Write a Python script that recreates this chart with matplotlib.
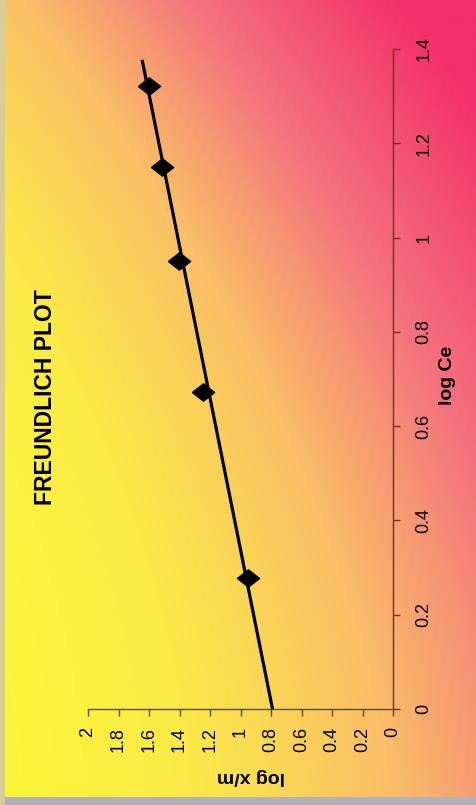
import numpy as np
import matplotlib
matplotlib.use('Agg')
import matplotlib.pyplot as plt
from matplotlib.patches import Rectangle
from matplotlib.colors import LinearSegmentedColormap

plt.rcParams['font.family'] = ['Liberation Sans', 'DejaVu Sans']

# Freundlich isotherm data (chart is printed turned on its side)
log_ce = [0.277, 0.672, 0.951, 1.149, 1.321]
log_xm = [0.954, 1.243, 1.401, 1.513, 1.599]

# straight line through the points, as drawn in the picture
fit_ce = [0.0, 1.377]
fit_xm = [0.79, 1.645]

ce_ticks = [0, 0.2, 0.4, 0.6, 0.8, 1, 1.2, 1.4]
xm_ticks = [0, 0.2, 0.4, 0.6, 0.8, 1, 1.2, 1.4, 1.6, 1.8, 2]

W, H = 476, 805
fig = plt.figure(figsize=(W / 100, H / 100), dpi=100)

# yellow -> orange -> pink background
grad = LinearSegmentedColormap.from_list('bg', [
    (0.0, '#fcf63a'), (0.2, '#fbea48'), (0.45, '#f9bd68'),
    (0.68, '#f4747e'), (1.0, '#f3306a')])
bg = fig.add_axes([0, 0, 1, 1], zorder=0)
xf = np.linspace(0, 1, 240)[None, :]
yf = np.linspace(1, 0, 400)[:, None]  # 1 at top
t = 0.55 * xf ** 1.1 + 0.42 * yf ** 2 + 0.15 * xf * yf
bg.imshow(np.clip(t, 0, 1), cmap=grad, vmin=0, vmax=1, aspect='auto',
          extent=[0, 1, 0, 1], origin='upper')
bg.set_xlim(0, 1)
bg.set_ylim(0, 1)
bg.axis('off')
bg.add_patch(Rectangle((0, 0), 1, 8 / H, color='#b4b0b8', lw=0))
bg.add_patch(Rectangle((0, 0), 5 / W, 1, color='#d8cc98', lw=0))

ax = fig.add_axes([88 / W, (H - 709) / H, (393 - 88) / W, (709 - 49) / H], zorder=2)
ax.patch.set_alpha(0)

diamond = [(-1, 0), (0, 0.78), (1, 0), (0, -0.78), (-1, 0)]
ax.plot(fit_xm, fit_ce, color='black', lw=2.3, solid_capstyle='butt', zorder=3)
ax.plot(log_xm, log_ce, linestyle='none', marker=diamond, markersize=16,
        color='black', zorder=4)

ax.set_xlim(2, 0)
ax.set_ylim(0, 1.4)

for s in ['top', 'left']:
    ax.spines[s].set_visible(False)
ax.spines['right'].set_color('#7a2a1e')
ax.spines['bottom'].set_color('#5e4a22')
ax.spines['right'].set_linewidth(1.0)
ax.spines['bottom'].set_linewidth(1.0)

ax.yaxis.tick_right()
ax.set_yticks(ce_ticks)
ax.set_yticklabels([f'{t:g}' for t in ce_ticks], rotation=90, va='center')
ax.tick_params(axis='y', direction='out', length=5, width=1, color='#7a2a1e',
               pad=11, labelsize=13)

ax.set_xticks(xm_ticks)
ax.set_xticklabels([f'{t:g}' for t in xm_ticks], rotation=90)
ax.tick_params(axis='x', direction='out', length=5, width=1, color='#5e4a22',
               pad=8, labelsize=13)

fig.text(251 / W, 1 - 776 / H, 'log x/m', rotation=180, ha='center', va='center',
         fontsize=14, fontweight='bold')
fig.text(448 / W, 1 - 375 / H, 'log Ce', rotation=90, ha='center', va='center',
         fontsize=14, fontweight='bold')
fig.text(46 / W, 1 - 397 / H, 'FREUNDLICH PLOT', rotation=90, ha='center', va='center',
         fontsize=16.5, fontweight='bold')

fig.savefig('out.png', dpi=100)
